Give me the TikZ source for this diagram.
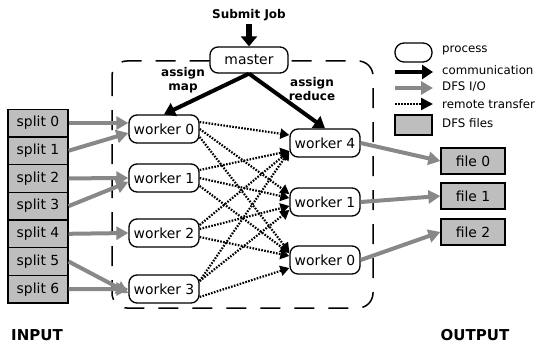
\documentclass[tikz,border=0pt]{standalone}
\usepackage{fontspec}
\setmainfont{DejaVu Sans}
\usetikzlibrary{positioning, arrows.meta}
\definecolor{dfsfill}{HTML}{BEBEBE}
\definecolor{dfsline}{HTML}{888888}

\begin{document}
\begin{tikzpicture}[
      x=1pt, y=-1pt,
      every node/.style={font=\fontsize{13.9}{16}\selectfont},
      proc/.style={draw, line width=1.3pt, rounded corners=8pt, fill=white,
                   minimum width=70pt, minimum height=28pt, inner sep=1pt},
      dfsbox/.style={draw, line width=1.3pt, fill=dfsfill, inner sep=1pt,
                     minimum width=60pt, minimum height=27.7pt},
      outfile/.style={dfsbox, minimum width=64pt, minimum height=26pt},
      comm/.style={line width=4pt, -{Triangle[length=11pt, width=14pt]}},
      dfsio/.style={line width=4pt, dfsline, -{Triangle[length=12pt, width=13pt]}},
      remote/.style={line width=2.2pt, dash pattern=on 1.6pt off 1.4pt,
                     -{Triangle[length=9pt, width=10pt]}},
      lbl/.style={font=\fontsize{12}{13.5}\selectfont\bfseries, align=center},
      legtext/.style={font=\fontsize{11.8}{13}\selectfont, anchor=west, inner sep=0pt},
    ]
    \useasboundingbox (0,0) rectangle (535,345);

    % job tracker region
    \draw[line width=1.5pt, dash pattern=on 20pt off 14pt, rounded corners=15pt]
      (112,61) rectangle (373,308);

    \node[lbl] (submit) at (249,15) {Submit Job};
    \node[proc, minimum width=78pt, minimum height=26pt] (master) at (249,60) {master};
    \draw[line width=6pt, -{Triangle[length=10pt, width=16pt]}] (submit) -- (master.north);

    % input splits
    \foreach \i in {0,...,6}
      \node[dfsbox] (s\i) at (38,{123+27.7*\i}) {split \i};

    % map side
    \node[proc] (mw0) at (164,129) {worker 0};
    \node[proc] (mw1) at (164,178) {worker 1};
    \node[proc] (mw2) at (164,233) {worker 2};
    \node[proc] (mw3) at (164,289) {worker 3};

    % reduce side
    \node[proc] (rw4) at (325,143) {worker 4};
    \node[proc] (rw1) at (325,202) {worker 1};
    \node[proc] (rw0) at (325,260) {worker 0};

    % output files
    \node[outfile] (f0) at (473,161) {file 0};
    \node[outfile] (f1) at (473,196) {file 1};
    \node[outfile] (f2) at (473,232) {file 2};

    \draw[comm] (master.south) -- (mw0.north);
    \draw[comm] (master.south) -- (rw4.north);
    \node[lbl] (amap) at (183,80) {assign\\map};
    \node[lbl] (ared) at (312,89) {assign\\reduce};

    \draw[dfsio] (s0.east) -- (s0.east -| mw0.west);
    \draw[dfsio] (s1.east) -- ([yshift=-4pt]mw0.west);
    \draw[dfsio] (s2.east) -- (mw1.west);
    \draw[dfsio] (s3.east) -- ([yshift=-4pt]mw1.west);
    \draw[dfsio] (s4.east) -- (mw2.west);
    \draw[dfsio] (s5.east) -- ([yshift=-4pt]mw3.west);
    \draw[dfsio] (s6.east) -- (mw3.west);

    % shuffle: every map worker to every reduce worker
    \foreach \m/\r/\s/\e in {0/4/7/8, 0/1/0/8, 0/0/-8/8,
                             1/4/8/-8, 1/1/0/4, 1/0/-8/7,
                             2/4/8/-8, 2/1/4/-4, 2/0/-4/4,
                             3/4/8/-8, 3/1/8/-8, 3/0/-8/-8}
      \draw[remote] ([yshift=\s pt]mw\m.east) -- ([yshift=\e pt]rw\r.west);

    \draw[dfsio] (rw4.east) -- (f0.west);
    \draw[dfsio] (rw1.east) -- (f1.west);
    \draw[dfsio] (rw0.east) -- (f2.west);

    \node[lbl, font=\fontsize{15}{17}\selectfont\bfseries] (input) at (37,335) {INPUT};
    \node[lbl, font=\fontsize{15}{17}\selectfont\bfseries] (output) at (475,335) {OUTPUT};

    % legend
    \node[proc, minimum width=37pt, minimum height=19pt, rounded corners=9pt] (lproc) at (413.5,52.5) {};
    \node[legtext] (tproc) at (442,50) {process};
    \coordinate (lcommA) at (395,72);
    \coordinate (lcommB) at (433,72);
    \draw[comm] (lcommA) -- (lcommB);
    \node[legtext] (tcomm) at (442,70) {communication};
    \coordinate (lioA) at (395,88);
    \coordinate (lioB) at (433,88);
    \draw[dfsio] (lioA) -- (lioB);
    \node[legtext] (tio) at (442,87) {DFS I/O};
    \coordinate (lremA) at (395,104);
    \coordinate (lremB) at (433,104);
    \draw[remote, -{Triangle[length=12pt, width=12pt]}] (lremA) -- (lremB);
    \node[legtext] (trem) at (442,104) {remote transfer};
    \node[dfsbox, minimum width=37pt, minimum height=20pt] (ldfs) at (413.5,125) {};
    \node[legtext] (tdfs) at (442,123) {DFS files};
  \end{tikzpicture}
\end{document}
